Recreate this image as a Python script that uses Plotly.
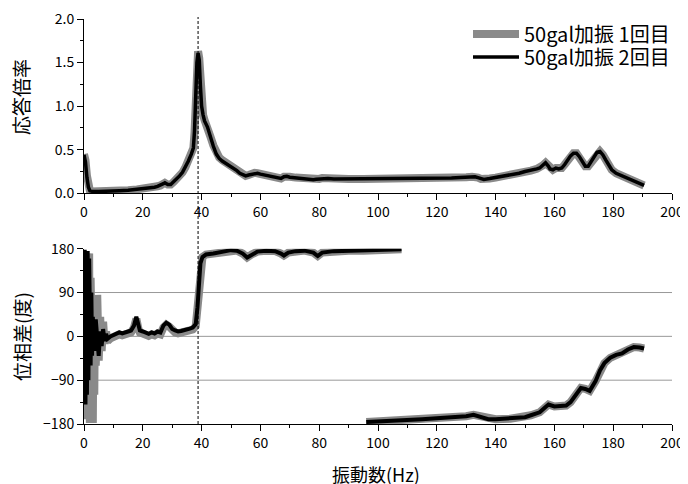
import plotly.graph_objects as go

# ---------------- data ----------------
resp_freq = [0, 0.5, 1, 1.5, 2, 2.5, 3, 5, 8, 10, 12, 15, 18, 20, 22, 24, 25, 26, 27, 27.5,
             28.5, 29.5, 30.5, 31.5, 32.5, 33.5, 34.5, 35.5, 36.5, 37.2, 37.6, 38, 38.4, 38.8,
             39.2, 39.6, 40, 40.5, 41, 42, 43, 44, 45, 46, 47, 48, 49, 50, 51, 52, 53, 54, 55,
             56, 57, 58, 59, 60, 62, 64, 66, 67, 68, 69, 70, 72, 74, 76, 78, 79, 80, 81, 83, 85,
             88, 90, 95, 100, 105, 110, 115, 120, 125, 128, 130, 132, 133, 134, 135, 136, 138,
             140, 142, 144, 146, 148, 150, 152, 154, 155, 156, 157, 158, 158.5, 159.5, 160.5,
             161.5, 162.5, 163.5, 164.5, 165.5, 166.5, 167.5, 168.5, 169.5, 170.5, 171.5, 172.5,
             173.5, 174.5, 175.5, 176.5, 177.5, 178.5, 179.5, 181, 183, 185, 187, 189, 190.5]
resp_run1 = [0.45, 0.38, 0.2, 0.08, 0.03, 0.02, 0.02, 0.02, 0.02, 0.025, 0.03, 0.035, 0.045, 0.05,
             0.06, 0.07, 0.08, 0.09, 0.11, 0.12, 0.10, 0.10, 0.13, 0.16, 0.2, 0.24, 0.3, 0.37, 0.45,
             0.52, 0.7, 1.1, 1.5, 1.63, 1.55, 1.25, 1.0, 0.9, 0.84, 0.77, 0.65, 0.55, 0.46, 0.41,
             0.38, 0.36, 0.34, 0.32, 0.3, 0.27, 0.24, 0.22, 0.2, 0.21, 0.23, 0.235, 0.23, 0.225,
             0.21, 0.19, 0.18, 0.17, 0.19, 0.2, 0.19, 0.18, 0.175, 0.17, 0.155, 0.16, 0.165, 0.175,
             0.17, 0.17, 0.165, 0.165, 0.165, 0.165, 0.165, 0.165, 0.17, 0.17, 0.175, 0.18, 0.185,
             0.19, 0.19, 0.18, 0.165, 0.16, 0.17, 0.18, 0.19, 0.2, 0.21, 0.23, 0.25, 0.26, 0.28,
             0.29, 0.32, 0.35, 0.31, 0.28, 0.27, 0.29, 0.28, 0.29, 0.33, 0.38, 0.43, 0.46, 0.46,
             0.42, 0.36, 0.31, 0.31, 0.36, 0.42, 0.47, 0.48, 0.44, 0.38, 0.32, 0.27, 0.23, 0.2,
             0.17, 0.14, 0.11, 0.09]
resp_run2 = [0.44, 0.36, 0.18, 0.07, 0.03, 0.02, 0.02, 0.02, 0.02, 0.025, 0.03, 0.035, 0.045, 0.05,
             0.06, 0.07, 0.08, 0.09, 0.11, 0.12, 0.10, 0.10, 0.13, 0.16, 0.2, 0.24, 0.3, 0.37, 0.45,
             0.52, 0.72, 1.12, 1.5, 1.61, 1.53, 1.23, 1.0, 0.9, 0.83, 0.76, 0.64, 0.54, 0.45, 0.4,
             0.37, 0.35, 0.33, 0.31, 0.29, 0.26, 0.23, 0.21, 0.2, 0.21, 0.22, 0.23, 0.23, 0.22,
             0.205, 0.19, 0.18, 0.17, 0.19, 0.195, 0.185, 0.175, 0.17, 0.165, 0.155, 0.16, 0.165,
             0.17, 0.17, 0.165, 0.165, 0.165, 0.165, 0.165, 0.165, 0.165, 0.17, 0.17, 0.175, 0.18,
             0.185, 0.19, 0.19, 0.18, 0.165, 0.16, 0.17, 0.18, 0.19, 0.2, 0.21, 0.23, 0.25, 0.26,
             0.28, 0.29, 0.32, 0.35, 0.31, 0.28, 0.27, 0.29, 0.28, 0.29, 0.33, 0.38, 0.43, 0.46,
             0.46, 0.42, 0.36, 0.31, 0.31, 0.36, 0.42, 0.47, 0.48, 0.44, 0.38, 0.32, 0.27, 0.23,
             0.2, 0.17, 0.14, 0.11, 0.09]

# phase: low-frequency noisy part (differs per run)
ph_low_freq1 = [0.25, 0.5, 0.75, 1.0, 1.25, 1.5, 1.75, 2.0, 2.25, 2.5, 2.75, 3.0, 3.25, 3.5, 3.75,
                4.0, 4.5, 5.0, 5.5, 6.0, 6.5, 7.0, 7.5, 8.0]
ph_low_run1 = [175, -100, 160, -170, 150, -178, 170, -178, 120, -160, 90, -178, 60, -120, 80,
               -60, 85, -50, 40, -30, 30, -15, 10, -10]
ph_low_freq2 = [0.25, 0.5, 0.75, 1.0, 1.25, 1.5, 1.75, 2.0, 2.25, 2.5, 2.75, 3.0, 3.5, 4.0, 4.5,
                5.0, 5.5, 6.0, 6.5, 7.0, 7.5, 8.0]
ph_low_run2 = [178, -140, 170, -120, 175, -90, 160, 30, -60, 90, -40, 40, -30, 35, -20, -40, 10,
               -20, 15, -10, 5, -5]

# phase: upper branch (9 .. 108 Hz)
ph_up_freq = [9, 10, 11, 12, 13, 14, 15, 16, 17, 17.8, 18.5, 19, 20, 21, 22, 23, 24, 25, 26, 27,
              28, 29, 30, 31, 32, 33, 34, 35, 36, 37, 38, 38.6, 39.1, 39.6, 40.3, 41.5, 44, 47,
              50, 52, 54, 55.5, 57, 59, 62, 65, 67, 68, 69.5, 72, 75, 78, 79.5, 81, 85, 90, 95,
              100, 104, 108]
ph_up_run1 = [-4, -1, 1, 4, 2, 5, 6, 8, 18, 36, 16, 8, 6, 4, 1, 4, 2, 6, 4, 18, 24, 20, 11, 8,
              6, 7, 8, 10, 12, 14, 21, 58, 118, 150, 163, 168, 170, 174, 177, 176, 170, 162, 168,
              174, 176, 175, 170, 166, 172, 175, 176, 172, 165, 172, 175, 176, 176, 177, 178, 179]
ph_up_run2 = [0, 3, 5, 8, 6, 9, 10, 12, 22, 40, 20, 12, 10, 8, 5, 8, 6, 10, 8, 22, 28, 24, 15,
              12, 10, 11, 12, 14, 16, 18, 25, 60, 120, 150, 163, 168, 170, 174, 177, 176, 170,
              162, 168, 174, 176, 175, 170, 166, 172, 175, 176, 172, 165, 172, 175, 176, 176,
              177, 178, 179]

# phase: lower branch (96 .. 190 Hz)
ph_lo_freq = [96, 100, 105, 110, 115, 120, 125, 130, 132.5, 135, 137.5, 140, 145, 150, 152, 155,
              157, 158, 160, 162, 164, 165.5, 167, 169, 170.5, 172, 174, 175.5, 177, 179, 181,
              183, 185, 187, 189, 190.5]
ph_lo_run1 = [-176, -175, -173, -171, -170, -168, -167, -164, -161, -165, -170, -170, -169, -166,
              -162, -156, -145, -140, -144, -144, -142, -135, -122, -106, -108, -112, -92, -70,
              -55, -44, -38, -35, -27, -22, -23, -25]
ph_lo_run2 = [-176, -175, -173, -171, -170, -168, -167, -164, -161, -165, -170, -170, -169, -166,
              -162, -156, -145, -140, -144, -144, -142, -135, -122, -106, -108, -112, -92, -70,
              -55, -44, -38, -35, -27, -22, -23, -25]

peak_freq = 38.8
x_ticks = [0, 20, 40, 60, 80, 100, 120, 140, 160, 180, 200]
resp_ticks = [0.0, 0.5, 1.0, 1.5, 2.0]
phase_ticks = [-180, -90, 0, 90, 180]
phase_grid = [-90, 0, 90]
run_names = ["50gal加振 1回目", "50gal加振 2回目"]

# ---------------- figure ----------------
FONT = "Noto Sans CJK JP"
GRAY = "#8a8a8a"

def join(*segs):
    xs, ys = [], []
    for i, (sx, sy) in enumerate(segs):
        if i:
            xs.append(None); ys.append(None)
        xs += list(sx); ys += list(sy)
    return xs, ys

# page has an 8px body margin, so the figure is 680x476 and page coords are shifted by 8
OFF = 8
W, H = 688 - OFF, 484 - OFF
ml = 84 - OFF
mt = 19 - OFF
mr = W - (672 - OFF)
mb = H - (424 - OFF)
ph = H - mt - mb
pw = W - ml - mr

def PX(page_x):
    return (page_x - OFF - ml) / pw

def PY(page_y):
    return (H - mb - (page_y - OFF)) / ph

fig = go.Figure()

fig.add_trace(go.Scatter(x=resp_freq, y=resp_run1, mode="lines", name=run_names[0],
                         line=dict(color=GRAY, width=8), xaxis="x", yaxis="y",
                         legend="legend"))
fig.add_trace(go.Scatter(x=resp_freq, y=resp_run2, mode="lines", name=run_names[1],
                         line=dict(color="black", width=3.5), xaxis="x", yaxis="y",
                         legend="legend2"))

px1, py1 = join((ph_low_freq1 + ph_up_freq, ph_low_run1 + ph_up_run1), (ph_lo_freq, ph_lo_run1))
px2, py2 = join((ph_low_freq2 + ph_up_freq, ph_low_run2 + ph_up_run2), (ph_lo_freq, ph_lo_run2))
fig.add_trace(go.Scatter(x=px1, y=py1, mode="lines", showlegend=False,
                         line=dict(color=GRAY, width=8), xaxis="x2", yaxis="y2"))
fig.add_trace(go.Scatter(x=px2, y=py2, mode="lines", showlegend=False,
                         line=dict(color="black", width=4), xaxis="x2", yaxis="y2"))

top_dom = [PY(193.3), 1.0]
bot_dom = [0.0, PY(248.7)]

axis_common = dict(showline=True, linecolor="black", linewidth=1, ticks="outside",
                   ticklen=6, tickcolor="black", tickwidth=1, showgrid=False, zeroline=False,
                   automargin=False, ticklabeloverflow="allow",
                   tickfont=dict(family=FONT, size=14, color="black"))
minor_x = dict(dtick=10, tick0=0, ticks="outside", ticklen=3, tickcolor="black")

leg_common = dict(xanchor="left", yanchor="middle", bgcolor="rgba(0,0,0,0)", borderwidth=0,
                  itemwidth=46, font=dict(family=FONT, size=20, color="black"))

fig.update_layout(
    width=W, height=H, margin=dict(l=ml, r=mr, t=mt, b=mb, autoexpand=False),
    paper_bgcolor="white", plot_bgcolor="white",
    font=dict(family=FONT, color="black"),
    xaxis=dict(domain=[0, 1], range=[0, 200], anchor="y", tickvals=x_ticks,
               minor=minor_x, **axis_common),
    yaxis=dict(domain=top_dom, range=[0, 2], anchor="x", tickvals=resp_ticks,
               ticktext=[f"{v:.1f}" for v in resp_ticks],
               minor=dict(dtick=0.25, tick0=0, ticks="outside", ticklen=3, tickcolor="black"),
               **axis_common),
    xaxis2=dict(domain=[0, 1], range=[0, 200], anchor="y2", tickvals=x_ticks,
                minor=minor_x, **axis_common),
    yaxis2=dict(domain=bot_dom, range=[-180, 180], anchor="x2", tickvals=phase_ticks,
                ticktext=[str(v).replace("-", "\u2212") for v in phase_ticks],
                minor=dict(dtick=45, tick0=0, ticks="outside", ticklen=3, tickcolor="black"),
                **axis_common),
    legend=dict(x=PX(468), y=PY(34), **leg_common),
    legend2=dict(x=PX(468), y=PY(57), **leg_common),
    showlegend=True,
)

for g in phase_grid:
    fig.add_shape(type="line", xref="x2", yref="y2", x0=0, x1=200, y0=g, y1=g,
                  line=dict(color="#999999", width=1), layer="below")

fig.add_shape(type="line", xref="x", yref="paper", x0=peak_freq, x1=peak_freq,
              y0=0, y1=PY(17), line=dict(color="black", width=1, dash="3px,2px"))

def ytitle(text, ypix):
    fig.add_annotation(text=text, xref="paper", yref="paper", x=PX(21), y=PY(ypix),
                       showarrow=False, textangle=-90, xanchor="center", yanchor="middle",
                       font=dict(family=FONT, size=19, color="black"))

ytitle("応答倍率", 97)
ytitle("位相差(度)", 337)
fig.add_annotation(text="振動数(Hz)", xref="paper", yref="paper",
                   x=PX(376), y=PY(474), showarrow=False,
                   xanchor="center", yanchor="middle",
                   font=dict(family=FONT, size=18, color="black"))

fig.write_html("out.html")
